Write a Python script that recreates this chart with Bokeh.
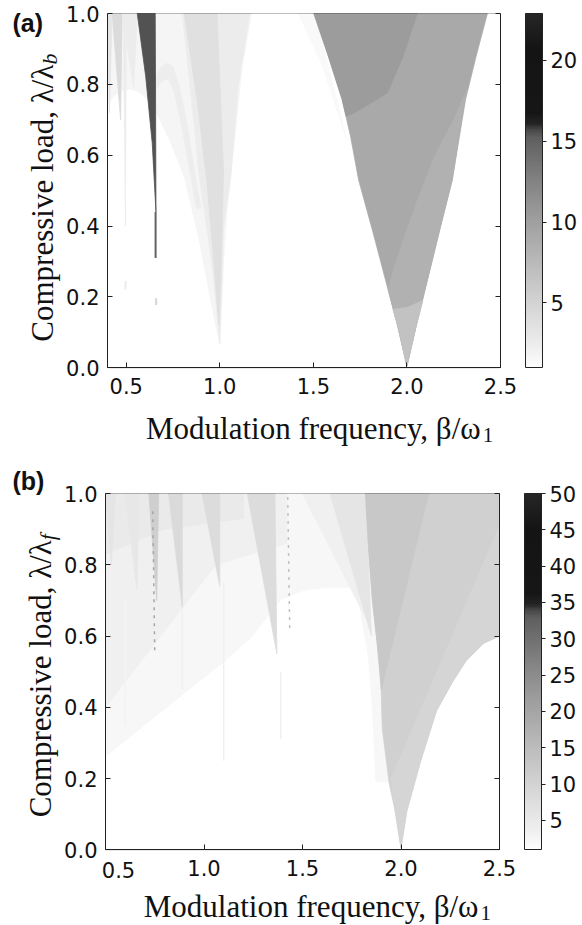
import numpy as np
from bokeh.plotting import figure
from bokeh.models import (LinearColorMapper, ColorBar, FixedTicker, LinearAxis, Label,
                          ColumnDataSource, Range1d, NumeralTickFormatter, CustomJSTickFormatter,
                          BoxAnnotation)
from bokeh.layouts import column
from bokeh.embed import file_html
from bokeh.resources import INLINE

# ---------------- data: panel (a) ----------------
A_X_TICKS = [0.5, 1.0, 1.5, 2.0, 2.5]
A_Y_TICKS = [0.0, 0.2, 0.4, 0.6, 0.8, 1.0]
A_X_LIM = (0.4, 2.5)
A_CB_TICKS = [5, 10, 15, 20]
A_VMIN, A_VMAX = 1.0, 22.9

# regions (drawn in order): boundary x, boundary y, value
A_HAZE_X = [0.40, 0.40, 1.17, 1.12, 1.08, 1.04, 1.02, 1.00, 0.97, 0.93, 0.89, 0.85, 0.81, 0.74, 0.68, 0.64, 0.60, 0.56, 0.52, 0.47, 0.43]
A_HAZE_Y = [0.74, 1.00, 1.00, 0.85, 0.65, 0.45, 0.30, 0.068, 0.14, 0.25, 0.36, 0.45, 0.54, 0.634, 0.70, 0.74, 0.765, 0.78, 0.787, 0.782, 0.765]
A_HAZE_V = 1.7

A_TONGUE_X = [0.80, 1.16, 1.10, 1.057, 1.02, 1.013, 1.00, 0.968, 0.929, 0.892, 0.86, 0.83]
A_TONGUE_Y = [1.00, 1.00, 0.80, 0.531, 0.40, 0.247, 0.068, 0.247, 0.403, 0.531, 0.70, 0.85]
A_TONGUE_V = 2.6

A_CORE_X = [0.81, 0.985, 1.02, 1.005, 0.995, 0.96, 0.93, 0.88]
A_CORE_Y = [1.00, 1.00, 0.55, 0.25, 0.12, 0.35, 0.53, 0.75]
A_CORE_V = 3.8

A_ARCH_X = [0.655, 0.69, 0.72, 0.75, 0.78, 0.81, 0.84, 0.87, 0.90, 0.875, 0.845, 0.815, 0.785, 0.755, 0.725, 0.69, 0.655]
A_ARCH_Y = [0.82, 0.85, 0.86, 0.85, 0.80, 0.73, 0.64, 0.54, 0.45, 0.45, 0.54, 0.63, 0.71, 0.78, 0.815, 0.81, 0.78]
A_ARCH_V = 2.4

# thin tongues hanging from the top: top-left x, top-right x, tip x, tip y, value
A_TONGUE_TL = [0.400, 0.425, 0.478, 0.485]
A_TONGUE_TR = [0.425, 0.478, 0.559, 0.500]
A_TONGUE_TIPX = [0.410, 0.470, 0.540, 0.496]
A_TONGUE_TIPY = [0.72, 0.70, 0.79, 0.40]
A_TONGUE_VAL = [3.2, 4.3, 2.5, 2.6]

A_DARK_X = [0.559, 0.655, 0.658, 0.659, 0.639, 0.604]
A_DARK_Y = [1.00, 1.00, 0.60, 0.44, 0.634, 0.823]
A_DARK_V = 15.5

A_FAINT_X = [1.42, 1.51, 1.68, 1.55]
A_FAINT_Y = [1.00, 1.00, 0.64, 0.85]
A_FAINT_V = 1.4

A_WEDGE_X = [1.503, 1.58, 1.654, 1.70, 1.742, 1.82, 1.886, 1.95, 2.0, 2.05, 2.109, 2.18, 2.242, 2.313, 2.37, 2.43]
A_WEDGE_Y = [1.00, 0.88, 0.757, 0.65, 0.53, 0.38, 0.247, 0.12, 0.005, 0.12, 0.247, 0.40, 0.53, 0.757, 0.88, 1.00]
A_WEDGE_V = 9.2

A_WDARK_X = [1.503, 2.055, 1.98, 1.895, 1.80, 1.72, 1.675, 1.654, 1.58]
A_WDARK_Y = [1.00, 1.00, 0.88, 0.776, 0.745, 0.72, 0.71, 0.757, 0.88]
A_WDARK_V = 10.4

A_WLIGHT_X = [1.90, 1.95, 2.0, 2.05, 2.109, 2.18, 2.242, 2.30, 2.322, 2.25, 2.15, 2.06, 1.98, 1.93]
A_WLIGHT_Y = [0.22, 0.12, 0.005, 0.12, 0.247, 0.40, 0.53, 0.73, 0.786, 0.70, 0.60, 0.48, 0.36, 0.28]
A_WLIGHT_V = 8.4

A_APEX_X = [1.925, 1.95, 2.0, 2.05, 2.085, 2.0]
A_APEX_Y = [0.165, 0.12, 0.005, 0.12, 0.19, 0.17]
A_APEX_V = 6.7

# thin vertical traces: x0, y0, x1, y1, value
A_LINE_X0 = [0.657, 0.660, 0.496]
A_LINE_Y0 = [0.44, 0.196, 0.245]
A_LINE_X1 = [0.657, 0.660, 0.496]
A_LINE_Y1 = [0.31, 0.177, 0.22]
A_LINE_V = [15.0, 5.0, 2.6]

# ---------------- data: panel (b) ----------------
B_X_TICKS = [0.5, 1.0, 1.5, 2.0, 2.5]
B_Y_TICKS = [0.0, 0.2, 0.4, 0.6, 0.8, 1.0]
B_X_LIM = (0.5, 2.5)
B_CB_TICKS = [5, 10, 15, 20, 25, 30, 35, 40, 45, 50]
B_VMIN, B_VMAX = 1.0, 50.0

B_HAZE_X = [0.5, 0.5, 1.82, 1.835, 1.855, 1.875, 1.895, 1.905, 1.94, 1.97, 2.0, 2.0]
B_HAZE_Y = [0.0, 1.0, 1.0, 0.85, 0.70, 0.60, 0.53, 0.34, 0.187, 0.11, 0.005, 0.0]
B_HAZE_V = 2.2

B_BAND2_X = [0.5, 0.5, 1.42, 1.42, 1.06]
B_BAND2_Y = [0.40, 1.0, 1.0, 0.86, 0.80]
B_BAND2_V = 3.6

B_BAND3_X = [0.5, 0.5, 1.2, 1.2, 0.8]
B_BAND3_Y = [0.83, 1.0, 1.0, 0.93, 0.90]
B_BAND3_V = 5.0

B_WHITE_X = [0.5, 0.5, 1.11, 1.25, 1.39, 1.5, 1.61, 1.75, 1.78, 1.80, 1.83, 1.845, 1.86, 1.868, 1.947, 1.97, 2.0, 2.0]
B_WHITE_Y = [0.0, 0.26, 0.53, 0.60, 0.70, 0.725, 0.734, 0.734, 0.71, 0.64, 0.54, 0.447, 0.30, 0.19, 0.187, 0.11, 0.005, 0.0]
B_WHITE_V = 1.0

B_TONGUE_TL = [0.50, 0.60, 0.72, 0.82, 0.99, 1.22, 1.50, 1.64]
B_TONGUE_TR = [0.55, 0.67, 0.77, 0.89, 1.08, 1.36, 1.64, 1.82]
B_TONGUE_TIPX = [0.53, 0.66, 0.76, 0.89, 1.08, 1.37, 1.83, 1.85]
B_TONGUE_TIPY = [0.80, 0.73, 0.70, 0.68, 0.74, 0.55, 0.64, 0.60]
B_TONGUE_VAL = [6.0, 5.5, 11.0, 8.5, 8.0, 8.0, 3.5, 6.0]

B_WEDGE_X = [1.82, 1.835, 1.855, 1.875, 1.895, 1.905, 1.94, 1.97, 2.0, 2.03, 2.1, 2.18, 2.26, 2.33, 2.42, 2.5, 2.5]
B_WEDGE_Y = [1.0, 0.85, 0.70, 0.60, 0.53, 0.34, 0.187, 0.11, 0.005, 0.11, 0.25, 0.39, 0.47, 0.53, 0.58, 0.60, 1.0]
B_WEDGE_V = 10.8

B_WDARK_X = [1.82, 2.14, 1.90, 1.875, 1.855, 1.835]
B_WDARK_Y = [1.0, 1.0, 0.45, 0.60, 0.70, 0.85]
B_WDARK_V = 12.3

B_WLIGHT_X = [1.95, 2.5, 2.5, 2.42, 2.33, 2.26, 2.18, 2.1, 2.03, 2.0, 1.97]
B_WLIGHT_Y = [0.20, 0.91, 0.60, 0.58, 0.53, 0.47, 0.39, 0.25, 0.11, 0.005, 0.11]
B_WLIGHT_V = 9.8

B_LINE_X0 = [1.10, 1.39, 0.89, 0.60]
B_LINE_Y0 = [0.75, 0.50, 0.68, 0.70]
B_LINE_X1 = [1.10, 1.39, 0.89, 0.60]
B_LINE_Y1 = [0.25, 0.31, 0.45, 0.35]
B_LINE_V = [3.5, 3.5, 3.5, 3.0]

B_DASH_X0 = [1.425, 0.74]
B_DASH_Y0 = [0.99, 0.95]
B_DASH_X1 = [1.435, 0.75]
B_DASH_Y1 = [0.62, 0.55]
B_DASH_V = [14.0, 20.0]

# ---------------- style ----------------
GRAY_T = [0.0, 0.01, 0.05, 0.18, 0.30, 0.41, 0.50, 0.60, 0.65, 0.67, 0.69, 0.72, 0.90, 1.0]
GRAY_L = [255, 250, 240, 212, 185, 160, 138, 110, 95, 75, 35, 22, 20, 38]
levels = np.interp(np.linspace(0, 1, 256), GRAY_T, GRAY_L).round().astype(int)
PALETTE = ["#%02x%02x%02x" % (g, g, g) for g in levels]

TICK_FONT = "DejaVu Sans"
TICK_SIZE = "21px"
LABEL_FONT = "Liberation Serif"
INK = "#111111"
LINE = "#222222"
W = 582


def tongues(tl, tr, tx, ty, v):
    xs = [[a, b, c] for a, b, c in zip(tl, tr, tx)]
    ys = [[1.0, 1.0, d] for d in ty]
    return xs, ys, list(v)


def span_range(d0, d1, p0, p1, total):
    """data range of a full-canvas frame, given the pixels where d0 and d1 sit"""
    s = (p1 - p0) / (d1 - d0)
    return d0 - p0 / s, d1 + (total - p1) / s


def make_panel(height, box_px, x_lim, x_ticks, y_ticks, mapper, cb_ticks, cb_left):
    left, right, top, bottom = box_px
    x0, x1 = span_range(x_lim[0], x_lim[1], left, right, W)
    ylo, yhi = span_range(0.0, 1.0, height - bottom, height - top, height)
    p = figure(width=W, height=height, x_range=Range1d(x0, x1), y_range=Range1d(ylo, yhi),
               output_backend="svg", toolbar_location=None,
               min_border_left=0, min_border_right=0, min_border_top=0, min_border_bottom=0)
    p.title.visible = False
    p.xgrid.visible = False
    p.ygrid.visible = False
    p.outline_line_color = None
    p.background_fill_color = "white"
    p.border_fill_color = "white"

    xa, ya = p.xaxis[0], p.yaxis[0]
    xa.fixed_location = 0.0
    xa.bounds = x_lim
    ya.fixed_location = x_lim[0]
    ya.bounds = (0.0, 1.0)
    xa.ticker = FixedTicker(ticks=x_ticks)
    ya.ticker = FixedTicker(ticks=y_ticks)
    xa.formatter = NumeralTickFormatter(format="0.0")
    ya.formatter = NumeralTickFormatter(format="0.0")
    for ax in (xa, ya):
        ax.major_tick_in = 5
        ax.major_tick_out = 0
        ax.minor_tick_line_color = None
        ax.axis_line_color = LINE
        ax.major_tick_line_color = LINE
        ax.major_label_text_font = TICK_FONT
        ax.major_label_text_font_size = TICK_SIZE
        ax.major_label_text_color = INK
    xa.major_label_standoff = 10
    ya.major_label_standoff = 8
    ra = LinearAxis(ticker=FixedTicker(ticks=y_ticks), fixed_location=x_lim[1], bounds=(0.0, 1.0),
                    formatter=CustomJSTickFormatter(code="return ''"),
                    major_tick_in=5, major_tick_out=0, minor_tick_line_color=None,
                    axis_line_color=LINE, major_tick_line_color=LINE,
                    major_label_standoff=0, major_label_text_font_size="1px")
    p.add_layout(ra, "right")
    p.add_layout(BoxAnnotation(left=x_lim[0], right=x_lim[1], bottom=0.0, top=1.0,
                               fill_color=None, fill_alpha=0, line_color=LINE, line_width=1))
    cb = ColorBar(color_mapper=mapper, ticker=FixedTicker(ticks=cb_ticks),
                  width=17, height=int(round(bottom - top)), padding=0, margin=0,
                  location=(int(cb_left), int(round(height - bottom))),
                  label_standoff=4, major_label_text_font=TICK_FONT,
                  major_label_text_font_size=TICK_SIZE, major_label_text_color=INK,
                  major_tick_in=0, major_tick_out=4, major_tick_line_color=LINE,
                  minor_tick_line_color=None,
                  bar_line_color=LINE, border_line_color=None,
                  background_fill_color=None)
    p.add_layout(cb)
    return p


def draw_regions(p, mapper, xs, ys, vs):
    src = ColumnDataSource(dict(xs=xs, ys=ys, v=vs))
    fc = {"field": "v", "transform": mapper}
    p.patches("xs", "ys", source=src, fill_color=fc, line_color=fc, line_width=0.8)


def draw_lines(p, mapper, x0, y0, x1, y1, v, width, dash="solid"):
    src = ColumnDataSource(dict(x0=x0, y0=y0, x1=x1, y1=y1, v=v))
    p.segment("x0", "y0", "x1", "y1", source=src,
              line_color={"field": "v", "transform": mapper}, line_width=width, line_dash=dash)


def add_text(p, **kw):
    p.add_layout(Label(**kw))


def add_axis_labels(p, x_left, y_end, ysub, x_end, tag, tag_dx, tag_dy, xl_dy):
    add_text(p, x=x_left, y=y_end, x_offset=-65, angle=np.pi / 2, text="Compressive load, λ/λ",
             text_align="right", text_baseline="alphabetic", text_font=LABEL_FONT,
             text_font_size="31px", text_color=INK)
    add_text(p, x=x_left, y=y_end, x_offset=-58, angle=np.pi / 2, text=ysub,
             text_align="left", text_baseline="alphabetic", text_font=LABEL_FONT,
             text_font_size="22px", text_font_style="italic", text_color=INK)
    add_text(p, x=x_end, y=0.0, y_offset=xl_dy, text="Modulation frequency, β/ω",
             text_align="right", text_baseline="alphabetic", text_font=LABEL_FONT,
             text_font_size="31px", text_color=INK)
    add_text(p, x=x_end, y=0.0, x_offset=2, y_offset=xl_dy - 6, text="1",
             text_align="left", text_baseline="alphabetic", text_font=LABEL_FONT,
             text_font_size="21px", text_color=INK)
    add_text(p, x=x_left, y=1.0, x_offset=tag_dx, y_offset=tag_dy, text=tag,
             text_align="left", text_baseline="middle", text_font="Liberation Sans",
             text_font_size="25px", text_font_style="bold", text_color=INK)


# ---------------- panel (a) ----------------
map_a = LinearColorMapper(palette=PALETTE, low=A_VMIN, high=A_VMAX)
pa = make_panel(450, (107, 500, 13, 367.3), A_X_LIM, A_X_TICKS, A_Y_TICKS, map_a, A_CB_TICKS, 525)

txs, tys, tvs = tongues(A_TONGUE_TL, A_TONGUE_TR, A_TONGUE_TIPX, A_TONGUE_TIPY, A_TONGUE_VAL)
a_xs = [A_HAZE_X, A_TONGUE_X, A_CORE_X, A_ARCH_X] + txs + [A_DARK_X, A_FAINT_X, A_WEDGE_X,
        A_WDARK_X, A_WLIGHT_X, A_APEX_X]
a_ys = [A_HAZE_Y, A_TONGUE_Y, A_CORE_Y, A_ARCH_Y] + tys + [A_DARK_Y, A_FAINT_Y, A_WEDGE_Y,
        A_WDARK_Y, A_WLIGHT_Y, A_APEX_Y]
a_vs = [A_HAZE_V, A_TONGUE_V, A_CORE_V, A_ARCH_V] + tvs + [A_DARK_V, A_FAINT_V, A_WEDGE_V,
        A_WDARK_V, A_WLIGHT_V, A_APEX_V]
draw_regions(pa, map_a, a_xs, a_ys, a_vs)
draw_lines(pa, map_a, A_LINE_X0, A_LINE_Y0, A_LINE_X1, A_LINE_Y1, A_LINE_V, 2)
add_axis_labels(pa, A_X_LIM[0], 0.856, "b", 2.394, "(a)", -95, -9, -61)

# ---------------- panel (b) ----------------
map_b = LinearColorMapper(palette=PALETTE, low=B_VMIN, high=B_VMAX)
pb = make_panel(475, (105, 499, 43, 399.3), B_X_LIM, B_X_TICKS, B_Y_TICKS, map_b, B_CB_TICKS, 524)
pb.xaxis[0].formatter = CustomJSTickFormatter(code="return tick < 0.75 ? '' : tick.toFixed(1)")

txs, tys, tvs = tongues(B_TONGUE_TL, B_TONGUE_TR, B_TONGUE_TIPX, B_TONGUE_TIPY, B_TONGUE_VAL)
b_xs = [B_HAZE_X, B_BAND2_X, B_BAND3_X, B_WHITE_X] + txs + [B_WEDGE_X, B_WDARK_X, B_WLIGHT_X]
b_ys = [B_HAZE_Y, B_BAND2_Y, B_BAND3_Y, B_WHITE_Y] + tys + [B_WEDGE_Y, B_WDARK_Y, B_WLIGHT_Y]
b_vs = [B_HAZE_V, B_BAND2_V, B_BAND3_V, B_WHITE_V] + tvs + [B_WEDGE_V, B_WDARK_V, B_WLIGHT_V]
draw_regions(pb, map_b, b_xs, b_ys, b_vs)
draw_lines(pb, map_b, B_LINE_X0, B_LINE_Y0, B_LINE_X1, B_LINE_Y1, B_LINE_V, 1.5)
draw_lines(pb, map_b, B_DASH_X0, B_DASH_Y0, B_DASH_X1, B_DASH_Y1, B_DASH_V, 1.5, dash="3 5")

add_text(pb, x=B_X_LIM[0], y=0.0, x_offset=13, y_offset=-12, text="0.5", text_align="center",
         text_baseline="top", text_font=TICK_FONT, text_font_size=TICK_SIZE, text_color=INK)
add_axis_labels(pb, B_X_LIM[0], 0.869, "f", 2.393, "(b)", -93, 13, -57)

layout = column(pa, pb, spacing=0)
open("out.html", "w").write(file_html(layout, INLINE))
